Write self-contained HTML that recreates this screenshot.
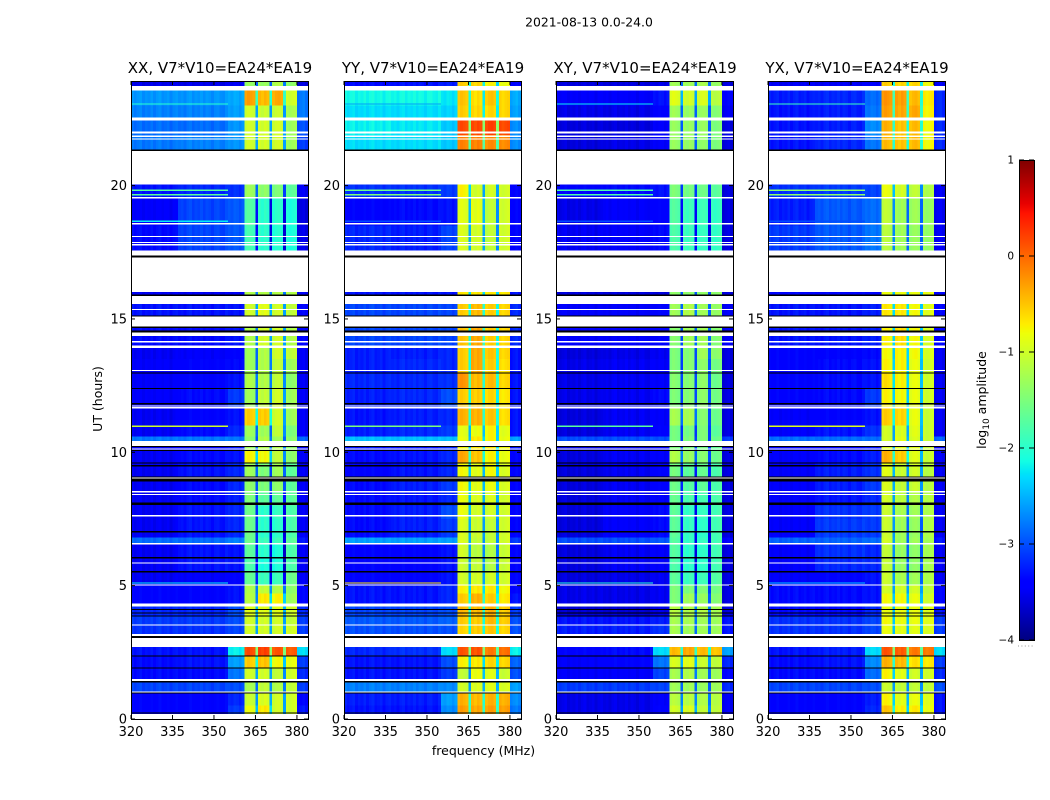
<!DOCTYPE html>
<html lang="en">
<head>
<meta charset="utf-8">
<title>2021-08-13 0.0-24.0</title>
<style>
html,body{margin:0;padding:0;background:#fff;width:1050px;height:800px;overflow:hidden}
svg{display:block}
text{font-family:"DejaVu Sans","Liberation Sans",sans-serif;fill:#000}
</style>
</head>
<body>
<svg id="figure" xmlns="http://www.w3.org/2000/svg" width="1050" height="800" viewBox="0 0 1050 800">
  <rect width="1050" height="800" fill="#fff"/>
  <text x="589" y="26.5" font-size="12.4" text-anchor="middle">2021-08-13 0.0-24.0</text>
  <text x="102" y="399" font-size="12.5" text-anchor="middle" transform="rotate(-90 102 399)">UT (hours)</text>
  <text x="483.5" y="755" font-size="12.5" text-anchor="middle">frequency (MHz)</text>
  <text x="986" y="400" font-size="12.5" text-anchor="middle" transform="rotate(-90 986 400)">log<tspan font-size="9" dy="3">10</tspan><tspan dy="-3"> amplitude</tspan></text>
  <g id="panels"></g>
  <g id="colorbar"></g>
</svg>
<script>
// ---- chart data ----
const panelTitles = ["XX, V7*V10=EA24*EA19", "YY, V7*V10=EA24*EA19", "XY, V7*V10=EA24*EA19", "YX, V7*V10=EA24*EA19"];
const panelKeys = ["xx", "yy", "xy", "yx"];
const xTickValues = [320, 335, 350, 365, 380];
const yTickValues = [0, 5, 10, 15, 20];
const colorTickValues = [-4, -3, -2, -1, 0, 1];

// UT hour edges of the time bins
const hourEdges = [0,0.5,0.95,1.4,1.9,2.35,2.7,3.5,3.85,4.3,4.7,5.0,5.5,6.05,6.55,6.8,7.5,8.0,8.5,9.0,9.6,10.05,10.43,10.6,11.0,11.7,12.4,13.0,13.5,14.0,14.67,15.6,16.02,17.56,18.5,19.55,20.04,21.9,22.44,23.0,23.56,24];

// log10 amplitude per time bin:
// [320-337, 337-355, 355-361, 361-365, 366-370, 371-375, 376-380, 380-384 MHz]
const levelsXX = [
[-3.4,-3.4,-3.1,-.85,-.7,-1,-1,-3.3],[-3.4,-3.4,-3.2,-1.05,-.95,-1,-1,-3.4],[-3.05,-3.05,-3,-1.25,-1.1,-1.2,-1.1,-3.1],
[-3.35,-3.35,-2.8,-1,-1,-1.1,-1,-3.2],[-3.35,-3.3,-2.6,-.55,-.5,-.8,-.85,-3.1],[-3.3,-3.3,-2.2,.15,.2,.1,.05,-2.3],
[-3.15,-3.15,-3.05,-1,-1,-1,-1,-3.1],[-3.1,-3.1,-3,-1,-1,-1,-1.1,-3.1],[-3.2,-3.2,-3,-.9,-.9,-.9,-1,-3.2],
[-3.4,-3.4,-3.3,-1.15,-.7,-.75,-1.3,-3.4],[-3.4,-3.4,-3.3,-1.2,-1.1,-1.2,-1.4,-3.4],[-3.5,-3.45,-3.4,-1.65,-1.9,-1.9,-1.6,-3.5],
[-3.5,-3.3,-3.3,-1.8,-2.1,-2.1,-1.8,-3.5],[-3.5,-3.3,-3.3,-1.7,-2,-2.1,-1.8,-3.5],[-2.85,-2.85,-2.75,-1.6,-1.9,-1.9,-1.7,-3.3],
[-3.5,-3.3,-3.2,-1.6,-2,-2,-1.8,-3.5],[-3.5,-3.3,-3.2,-1.6,-2,-1.95,-1.8,-3.5],[-3.5,-3.35,-3.25,-1.5,-1.7,-1.7,-1.7,-3.5],
[-3.5,-3.35,-3.2,-1.4,-1.5,-1.4,-1.7,-3.5],[-3.5,-3.3,-3.2,-1.3,-1.5,-1.3,-1.7,-3.5],[-3.5,-3.35,-3.3,-.75,-.8,-1.1,-1.4,-3.5],
[-3.5,-3.4,-3.3,-1.3,-1.2,-1.2,-1.4,-3.5],[-2.8,-2.8,-2.8,-1.4,-1.2,-1.3,-1.4,-2.9],[-3.5,-3.35,-3.2,-1.3,-1.3,-1.1,-1.5,-3.5],
[-3.5,-3.4,-3.3,-.55,-.55,-1,-1.3,-3.5],[-3.45,-3.35,-3.1,-1.3,-1.1,-1,-1.3,-3.5],[-3.45,-3.4,-3.3,-1.2,-1.2,-1.1,-1.4,-3.5],
[-3.45,-3.4,-3.35,-1.3,-1.2,-1.1,-1.3,-3.5],[-3.5,-3.45,-3.4,-1.3,-1.2,-1,-1.1,-3.5],[-3.35,-3.35,-3.3,-1.2,-1,-1,-1.2,-3.4],
[-3.3,-3.3,-3.3,-1,-.9,-1,-1.1,-3.4],[-3.5,-3.5,-3.5,-1.2,-1.2,-1.2,-1.2,-3.5],[-3.5,-3.5,-3.5,-1.2,-1.2,-1.2,-1.2,-3.5],
[-3.35,-3.05,-2.95,-1.85,-2,-2.05,-2.1,-3.55],[-3.45,-3.05,-2.95,-1.75,-2,-2,-2.1,-3.6],[-3.3,-3.2,-3.15,-1.3,-1.4,-1.5,-1.7,-3.5],
[-2.8,-2.75,-2.65,-1,-1,-1,-1.3,-3.1],[-2.85,-2.85,-2.65,-1,-1,-1,-1.3,-3],[-2.75,-2.75,-2.6,-1,-1.05,-1.05,-1.25,-2.8],
[-2.65,-2.65,-2.55,-.3,-.45,-.35,-1,-2.8],[-3.55,-3.55,-3.5,-1.35,-1.35,-1.2,-1.4,-3.6]
];
const levelsYY = [
[-3.3,-3.3,-2.7,-.3,-.35,-.3,-.3,-2.8],[-3.25,-3.25,-2.6,-.4,-.45,-.4,-.4,-2.7],[-2.75,-2.75,-2.7,-1,-.95,-.9,-.95,-2.6],
[-3.3,-3.3,-3.1,-1.1,-.85,-.9,-1.05,-3],[-3.3,-3.3,-3,-.75,-.7,-.6,-.6,-2.9],[-3.2,-3.15,-2.3,.1,.1,-.1,-.05,-2.2],
[-3,-3,-3,-.6,-.55,-.5,-.6,-3],[-2.95,-2.95,-2.9,-.55,-.55,-.45,-.55,-3],[-3.05,-3.05,-3,-.45,-.45,-.4,-.55,-3.1],
[-3.3,-3.3,-3.2,-.55,-.4,-.55,-.7,-3.3],[-3.3,-3.3,-3.2,-.75,-.7,-.7,-.8,-3.4],[-3.4,-3.4,-3.3,-1,-1,-1,-1,-3.4],
[-3.4,-3.4,-3.3,-1.05,-1.1,-1.2,-1.05,-3.4],[-3.4,-3.4,-3.3,-1,-1.15,-1.2,-1.05,-3.4],[-2.6,-2.6,-2.6,-.95,-1.1,-1.1,-1,-3.1],
[-3.35,-3.25,-3.1,-.95,-1.05,-1.1,-1,-3.4],[-3.35,-3.25,-3,-.85,-1,-1,-1,-3.4],[-3.35,-3.3,-3.2,-.85,-.95,-.95,-1,-3.4],
[-3.35,-3.25,-3.1,-.8,-.9,-.85,-.95,-3.4],[-3.4,-3.3,-3.2,-.8,-.9,-.8,-.95,-3.4],[-3.35,-3.3,-3.2,-.35,-.5,-.75,-.85,-3.4],
[-3.3,-3.3,-3.2,-.8,-.7,-.7,-.8,-3.3],[-2.45,-2.45,-2.45,-.85,-.7,-.75,-.85,-2.6],[-3.25,-3.2,-3.1,-.9,-.85,-.75,-.9,-3.3],
[-3.3,-3.25,-3.2,-.4,-.4,-.5,-.65,-3.3],[-3.25,-3.2,-3,-.55,-.55,-.6,-.7,-3.3],[-3.2,-3.2,-3.15,-.25,-.45,-.45,-.6,-3.3],
[-3.25,-3.2,-3.2,-.55,-.35,-.55,-.65,-3.3],[-3.25,-3.25,-3.2,-.55,-.35,-.5,-.6,-3.3],[-3.05,-3.05,-3.05,-.5,-.35,-.55,-.6,-3.2],
[-3.05,-3.05,-3.05,-.55,-.45,-.55,-.6,-3.2],[-3.3,-3.3,-3.3,-.7,-.7,-.7,-.7,-3.3],[-3.3,-3.3,-3.3,-.7,-.7,-.7,-.7,-3.3],
[-3.2,-3.25,-3.05,-.95,-1,-1.1,-1,-3.4],[-3.4,-3.35,-3.3,-.9,-.9,-1.1,-1,-3.4],[-3.15,-3.15,-3.1,-.75,-1,-1,-1,-3.4],
[-2.3,-2.3,-2.4,-.15,-.15,-.2,-.2,-2.7],[-2.2,-2.25,-2.4,.15,.15,.2,.15,-2.7],[-2.3,-2.3,-2.35,-.55,-.6,-.6,-.6,-2.6],
[-2.15,-2.15,-2.25,-.5,-.65,-.5,-.6,-2.55],[-3.35,-3.3,-3.25,-.55,-.6,-.75,-.85,-3.4]
];
const levelsXY = [
[-3.55,-3.55,-3.4,-1,-.95,-1.1,-1.1,-3.5],[-3.55,-3.55,-3.45,-1.15,-1.15,-1.2,-1.15,-3.5],[-3.1,-3.1,-3.05,-1.3,-1.3,-1.35,-1.3,-3.2],
[-3.45,-3.45,-3.05,-1.25,-1.2,-1.3,-1.3,-3.4],[-3.45,-3.4,-2.8,-.95,-.9,-1.05,-1.1,-3.2],[-3.4,-3.35,-2.3,-.45,-.35,-.45,-.5,-2.6],
[-3.25,-3.25,-3.15,-1.25,-1.3,-1.3,-1.3,-3.3],[-3.3,-3.3,-3.25,-1.25,-1.25,-1.3,-1.3,-3.3],[-3.65,-3.65,-3.55,-1.15,-1.2,-1.2,-1.25,-3.6],
[-3.55,-3.55,-3.5,-1.5,-1.3,-1.35,-1.45,-3.6],[-3.55,-3.55,-3.5,-1.5,-1.5,-1.5,-1.55,-3.6],[-3.6,-3.55,-3.5,-1.7,-1.9,-1.9,-1.75,-3.6],
[-3.6,-3.5,-3.45,-1.8,-2,-2,-1.85,-3.6],[-3.6,-3.5,-3.45,-1.75,-2,-2,-1.85,-3.6],[-3,-3,-2.95,-1.75,-1.95,-1.95,-1.85,-3.4],
[-3.6,-3.45,-3.35,-1.7,-1.95,-2,-1.85,-3.6],[-3.6,-3.45,-3.35,-1.7,-1.95,-1.95,-1.85,-3.6],[-3.6,-3.5,-3.45,-1.65,-1.8,-1.85,-1.8,-3.6],
[-3.6,-3.5,-3.4,-1.6,-1.75,-1.7,-1.8,-3.6],[-3.6,-3.5,-3.4,-1.55,-1.7,-1.65,-1.8,-3.6],[-3.6,-3.5,-3.45,-1.2,-1.35,-1.45,-1.6,-3.6],
[-3.6,-3.55,-3.45,-1.5,-1.5,-1.55,-1.65,-3.6],[-3,-3,-3,-1.55,-1.5,-1.5,-1.6,-3.1],[-3.6,-3.5,-3.4,-1.55,-1.55,-1.5,-1.7,-3.6],
[-3.6,-3.5,-3.45,-1.25,-1.25,-1.45,-1.6,-3.6],[-3.55,-3.5,-3.35,-1.5,-1.45,-1.4,-1.55,-3.6],[-3.55,-3.5,-3.45,-1.45,-1.45,-1.4,-1.6,-3.6],
[-3.55,-3.5,-3.45,-1.5,-1.45,-1.4,-1.55,-3.6],[-3.6,-3.55,-3.5,-1.5,-1.45,-1.3,-1.4,-3.6],[-3.45,-3.45,-3.4,-1.45,-1.3,-1.3,-1.45,-3.5],
[-3.45,-3.45,-3.4,-1.3,-1.2,-1.3,-1.35,-3.5],[-3.6,-3.6,-3.6,-1.4,-1.4,-1.4,-1.4,-3.6],[-3.6,-3.6,-3.6,-1.4,-1.4,-1.4,-1.4,-3.6],
[-3.5,-3.45,-3.35,-1.8,-1.9,-1.95,-1.95,-3.6],[-3.55,-3.45,-3.4,-1.75,-1.9,-1.9,-1.95,-3.6],[-3.4,-3.35,-3.3,-1.5,-1.55,-1.6,-1.7,-3.6],
[-3.6,-3.55,-3.45,-1.35,-1.35,-1.4,-1.5,-3.6],[-3.6,-3.6,-3.45,-1.35,-1.35,-1.35,-1.5,-3.6],[-3.55,-3.55,-3.4,-1.3,-1.35,-1.35,-1.45,-3.5],
[-3.45,-3.45,-3.3,-.9,-1,-.95,-1.15,-3.4],[-3.6,-3.6,-3.55,-1.3,-1.3,-1.25,-1.35,-3.6]
];
const levelsYX = [
[-3.4,-3.4,-3.2,-.5,-.75,-.7,-.85,-3.3],[-3.4,-3.4,-3.25,-.75,-.9,-.85,-.9,-3.3],[-3.05,-3.05,-3,-1.05,-1.1,-1.1,-1.1,-3],
[-3.35,-3.35,-2.85,-.75,-.9,-1,-1,-3.2],[-3.35,-3.3,-2.7,-.4,-.45,-.65,-.7,-3.1],[-3.3,-3.25,-2.3,.1,.05,-.1,-.1,-2.3],
[-3.15,-3.15,-3.05,-.85,-.9,-.9,-.95,-3.1],[-3.15,-3.15,-3.05,-.8,-.85,-.85,-.9,-3.1],[-3.35,-3.35,-3.2,-.85,-.85,-.85,-.9,-3.3],
[-3.35,-3.35,-3.3,-.8,-.8,-.85,-1,-3.4],[-3.35,-3.35,-3.3,-1,-1,-1,-1.1,-3.4],[-3.45,-3.4,-3.3,-1.05,-1.25,-1.3,-1.2,-3.5],
[-3.45,-3.2,-3.2,-1.1,-1.35,-1.4,-1.25,-3.5],[-3.45,-3.15,-3.2,-1.1,-1.35,-1.4,-1.25,-3.5],[-2.9,-2.9,-2.85,-1,-1.3,-1.3,-1.25,-3.3],
[-3.45,-3.1,-3.1,-1.05,-1.3,-1.35,-1.2,-3.5],[-3.45,-3.15,-3.1,-1.05,-1.25,-1.3,-1.2,-3.5],[-3.45,-3.3,-3.2,-1,-1.15,-1.2,-1.15,-3.5],
[-3.45,-3.25,-3.1,-.95,-1.1,-1.05,-1.15,-3.5],[-3.45,-3.25,-3.15,-.9,-1.05,-1,-1.15,-3.5],[-3.45,-3.35,-3.25,-.4,-.55,-.9,-1.05,-3.5],
[-3.45,-3.4,-3.3,-.95,-.9,-.9,-1.05,-3.5],[-2.85,-2.85,-2.85,-1,-.9,-.95,-1.05,-2.9],[-3.45,-3.3,-3.15,-1,-.95,-.9,-1.05,-3.5],
[-3.45,-3.4,-3.3,-.55,-.6,-.85,-1.05,-3.5],[-3.4,-3.35,-3.1,-.75,-.8,-.85,-1,-3.5],[-3.4,-3.35,-3.3,-.65,-.75,-.85,-1,-3.5],
[-3.4,-3.35,-3.3,-.75,-.75,-.85,-1,-3.5],[-3.4,-3.4,-3.35,-.8,-.75,-.8,-.95,-3.5],[-3.3,-3.3,-3.25,-.75,-.65,-.8,-.95,-3.4],
[-3.3,-3.3,-3.25,-.7,-.7,-.8,-.9,-3.4],[-3.4,-3.4,-3.4,-.85,-.85,-.85,-.85,-3.4],[-3.4,-3.4,-3.4,-.85,-.85,-.85,-.85,-3.4],
[-3.1,-2.95,-2.8,-1.15,-1.3,-1.35,-1.35,-3.5],[-3.25,-2.95,-2.85,-1.1,-1.3,-1.3,-1.35,-3.5],[-3.15,-3.1,-3.05,-.85,-1,-1.1,-1.2,-3.5],
[-3.3,-3.2,-2.8,-.45,-.5,-.45,-.8,-3.2],[-3.3,-3.25,-2.7,-.4,-.5,-.45,-.8,-3.2],[-3.3,-3.25,-2.8,-.3,-.35,-.35,-.75,-3.2],
[-3.25,-3.2,-2.85,-.25,-.3,-.45,-.7,-3.2],[-3.5,-3.5,-3.45,-.55,-.6,-.6,-.8,-3.5]
];

// channel-to-channel ripple in log10 amplitude, 64 channels
const channelRipple = [.04,-.03,.02,.06,-.05,.01,-.02,.05,-.04,.03,.07,-.03,.00,.04,-.06,.02,.05,-.02,.01,-.05,.03,.06,-.04,.02,-.01,.05,-.03,.04,.01,-.06,.03,.05,-.02,-.04,.06,.01,-.03,.04,.02,-.05,.03,-.02,.05,.01,-.04,.02,.04,-.03,.06,-.01,.03,-.05,.02,.05,-.02,.01,.04,-.03,.02,.05,-.04,.02,.06,-.03];

// channels dark between the sub-bands, in MHz
const gapChannels = [365, 370, 375];
const gapDrop = 1.6;

// narrow interference rows: UT hour, level for each polarization
const rfiHours = [23.06, 19.83, 19.65, 18.67, 10.98, 5.1];
const rfiXX = [-2, -1.7, -1.7, -2.2, -1, -2.2];
const rfiYY = [-2.6, -1.6, -1.5, -3, -1.5, -.7];
const rfiXY = [-2.2, -1.8, -1.8, -3, -1.7, -2];
const rfiYX = [-1.9, -1.4, -1.4, -3, -.9, -2.4];

// flagged time ranges in UT hours, [start, end]
const whiteFlags = [[0,.19],[.99,1.04],[1.42,1.5],[2.7,3.04],[3.11,3.19],[3.51,3.55],[4.22,4.33],[5,5.04],[5.83,5.87],[6.55,6.59],[7.6,7.64],[8.39,8.43],[8.5,8.54],[9.02,9.06],[10.11,10.15],[10.24,10.43],[11.65,11.69],[11.72,11.76],[13.04,13.08],[13.92,14],[14.12,14.17],[14.37,14.5],[14.71,15.09],[15.33,15.37],[15.57,15.87],[16.02,17.3],[17.37,17.56],[17.76,17.81],[17.84,17.88],[18.07,18.11],[18.55,18.59],[19.52,19.57],[20.04,21.29],[21.73,21.76],[21.83,21.88],[21.96,22.03],[22.44,22.55],[23.56,23.73]];
const blackFlags = [[.21,.25],[.95,.99],[1.37,1.42],[1.89,1.93],[2.34,2.38],[3.04,3.11],[3.84,3.88],[3.96,4],[4.08,4.12],[5.49,5.55],[6.02,6.08],[6.99,7.05],[8.03,8.11],[8.9,9.01],[9.06,9.1],[9.46,9.53],[9.58,9.62],[10.04,10.08],[10.2,10.24],[11.8,11.84],[12.37,12.41],[12.96,13],[14.5,14.56],[14.67,14.71],[15.09,15.13],[15.87,15.91],[17.3,17.37],[21.29,21.35]];

const levelTables = [levelsXX, levelsYY, levelsXY, levelsYX];
const rfiTables = [rfiXX, rfiYY, rfiXY, rfiYX];

// ---- layout ----
const NS = "http://www.w3.org/2000/svg";
const plotTop = 81, plotBottom = 719, plotWidth = 177, pxPerHour = 26.67, mhzMin = 320, mhzSpan = 64;
const plotLefts = [131, 344, 556, 768];
const barLeft = 1019, barTop = 160, barBottom = 640, barWidth = 15;
const levelMin = -4, levelMax = 1;

function xScale(mhz, left) { return left + (mhz - mhzMin) * plotWidth / mhzSpan; }
function yScale(hour) { return plotBottom - hour * pxPerHour; }
function barScale(level) { return barBottom - (level - levelMin) / (levelMax - levelMin) * (barBottom - barTop); }

function ramp(t, knots) {
  for (let i = 1; i < knots.length; i++) {
    if (t <= knots[i][0]) {
      const a = knots[i - 1], b = knots[i];
      return a[1] + (b[1] - a[1]) * (t - a[0]) / (b[0] - a[0]);
    }
  }
  return knots[knots.length - 1][1];
}
const jetR = [[0,0],[.35,0],[.66,1],[.89,1],[1,.5]];
const jetG = [[0,0],[.125,0],[.375,1],[.64,1],[.91,0],[1,0]];
const jetB = [[0,.5],[.11,1],[.34,1],[.65,0],[1,0]];
function jetColor(level) {
  const t = Math.max(0, Math.min(1, (level - levelMin) / (levelMax - levelMin)));
  return "rgb(" + Math.round(ramp(t, jetR) * 255) + "," + Math.round(ramp(t, jetG) * 255) + "," + Math.round(ramp(t, jetB) * 255) + ")";
}
function make(tag, parent, attrs) {
  const el = document.createElementNS(NS, tag);
  for (const k in attrs) el.setAttribute(k, attrs[k]);
  parent.appendChild(el);
  return el;
}
function channelLevel(row, mhz) {
  let base;
  if (mhz < 337) base = row[0];
  else if (mhz < 355) base = row[1];
  else if (mhz < 361) base = row[2];
  else if (mhz < 366) base = row[3];
  else if (mhz < 371) base = row[4];
  else if (mhz < 376) base = row[5];
  else if (mhz < 380) base = row[6];
  else base = row[7];
  if (gapChannels.includes(mhz)) base -= gapDrop;
  return base + channelRipple[mhz - mhzMin];
}

// ---- panels ----
const panelsGroup = document.getElementById("panels");
panelTitles.forEach(function (title, p) {
  const left = plotLefts[p], key = panelKeys[p], table = levelTables[p], rfi = rfiTables[p];
  const g = make("g", panelsGroup, {});
  
  

  const clip = make("clipPath", g, { id: "clip-" + key });
  make("rect", clip, { x: left, y: plotTop, width: plotWidth, height: plotBottom - plotTop });

  const heat = make("g", g, { "clip-path": "url(#clip-" + key + ")", "shape-rendering": "crispEdges" });
  
  

  for (let b = 0; b < hourEdges.length - 1; b++) {
    const yTop = yScale(hourEdges[b + 1]), yBot = yScale(hourEdges[b]);
    for (let c = 0; c < mhzSpan; c++) {
      const mhz = mhzMin + c;
      const x0 = xScale(mhz, left), x1 = xScale(mhz + 1, left);
      const cell = make("rect", heat, { x: x0.toFixed(2), y: yTop.toFixed(2), width: (x1 - x0).toFixed(2), height: (yBot - yTop).toFixed(2), fill: jetColor(channelLevel(table[b], mhz)) });
      
      
    }
  }
  rfiHours.forEach(function (hour, i) {
    const line = make("rect", heat, { x: left, y: (yScale(hour) - .7).toFixed(2), width: (xScale(355, left) - left).toFixed(2), height: 1.4, fill: jetColor(rfi[i]) });
    
    
  });
  whiteFlags.forEach(function (f) {
    const band = make("rect", heat, { x: left, y: yScale(f[1]).toFixed(2), width: plotWidth, height: Math.max(1, (f[1] - f[0]) * pxPerHour).toFixed(2), fill: "#fff" });
    
    
  });
  blackFlags.forEach(function (f) {
    const band = make("rect", heat, { x: left, y: yScale(f[1]).toFixed(2), width: plotWidth, height: Math.max(1, (f[1] - f[0]) * pxPerHour).toFixed(2), fill: "#000" });
    
    
  });

  const frame = make("rect", g, { x: left + .5, y: plotTop + .5, width: plotWidth, height: plotBottom - plotTop, fill: "none", stroke: "#000", "stroke-width": 1 });
  
  

  xTickValues.forEach(function (v) {
    const x = xScale(v, left);
    const tb = make("line", g, { x1: x, x2: x, y1: plotBottom, y2: plotBottom - 4, stroke: "#000" });
    
    
    const tt = make("line", g, { x1: x, x2: x, y1: plotTop, y2: plotTop + 4, stroke: "#000" });
    
    
    const label = make("text", g, { x: x, y: 736, "font-size": 13, "text-anchor": "middle" });
    
    
    label.textContent = v;
  });
  yTickValues.forEach(function (v) {
    const y = yScale(v);
    const tl = make("line", g, { x1: left, x2: left + 4, y1: y, y2: y, stroke: "#000" });
    
    
    const tr = make("line", g, { x1: left + plotWidth - 4, x2: left + plotWidth, y1: y, y2: y, stroke: "#000" });
    
    
    const label = make("text", g, { x: left - 4, y: y + 4.5, "font-size": 13, "text-anchor": "end" });
    
    
    label.textContent = v;
  });
  const heading = make("text", g, { x: left + plotWidth / 2 + .5, y: 73, "font-size": 15, "text-anchor": "middle" });
  
  
  heading.textContent = title;
});

// ---- colorbar ----
const barGroup = document.getElementById("colorbar");
const barSteps = 240;
for (let i = 0; i < barSteps; i++) {
  const lo = levelMin + (levelMax - levelMin) * i / barSteps;
  const hi = levelMin + (levelMax - levelMin) * (i + 1) / barSteps;
  const seg = make("rect", barGroup, { x: barLeft, y: barScale(hi), width: barWidth, height: barScale(lo) - barScale(hi) + .3, fill: jetColor((lo + hi) / 2), "shape-rendering": "crispEdges" });
  
  
}
const barFrame = make("rect", barGroup, { x: barLeft + .5, y: barTop + .5, width: barWidth, height: barBottom - barTop, fill: "none", stroke: "#000" });


colorTickValues.forEach(function (v) {
  const y = barScale(v);
  const tl = make("line", barGroup, { x1: barLeft, x2: barLeft + 5, y1: y, y2: y, stroke: "#000" });
  
  
  const tr = make("line", barGroup, { x1: barLeft + barWidth - 5, x2: barLeft + barWidth, y1: y, y2: y, stroke: "#000" });
  
  
  const label = make("text", barGroup, { x: barLeft - 5, y: y + 3.5, "font-size": 10.5, "text-anchor": "end" });
  
  
  label.textContent = String(v).replace("-", "\u2212");
});
const barDots = make("line", barGroup, { x1: barLeft - 1, x2: barLeft + barWidth + 1, y1: 646, y2: 646, stroke: "#999", "stroke-dasharray": "1 2.4" });


</script>
</body>
</html>
